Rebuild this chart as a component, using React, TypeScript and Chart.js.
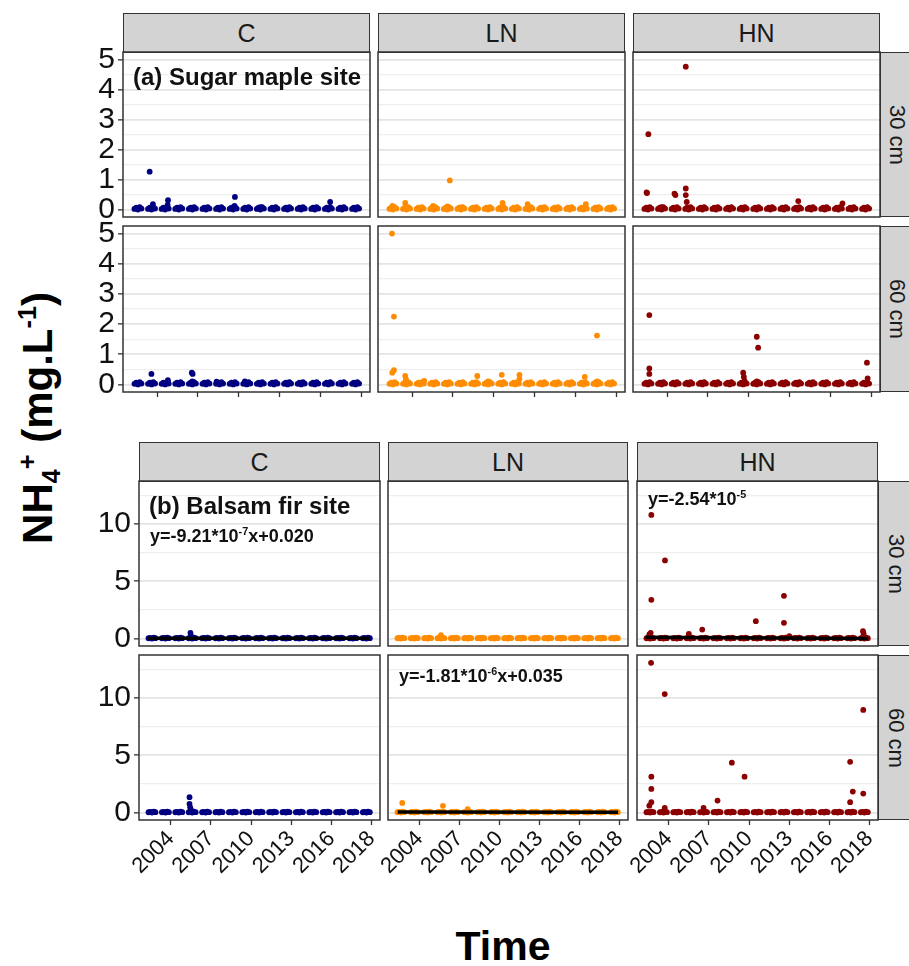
import React, { useEffect, useRef } from 'react';
import { Chart, registerables } from 'chart.js';

Chart.register(...registerables);

const FONT = '"Liberation Sans", Arial, Helvetica, sans-serif';

// ---------- data ----------
const treatments = ['C', 'LN', 'HN'];
const depths = ['30 cm', '60 cm'];
const treatmentColors = ['#000080', '#FF8C00', '#8B0000'];

const xTickValues = [2004, 2007, 2010, 2013, 2016, 2019];
const xTickLabels = ['2004', '2007', '2010', '2013', '2016', '2018'];

const sugarYGrid = [0, 0.5, 1, 1.5, 2, 2.5, 3, 3.5, 4, 4.5, 5];
const sugarYLabels = [0, 1, 2, 3, 4, 5];
const firYGrid = [0, 2.5, 5, 7.5, 10, 12.5];
const firYLabels = [0, 5, 10];

// routine sampling campaigns (years x visits within the growing season)
const sampleYears = [2002, 2003, 2004, 2005, 2006, 2007, 2008, 2009, 2010, 2011, 2012, 2013, 2014, 2015, 2016, 2017, 2018];
const visitOffsets = [0.34, 0.47, 0.6, 0.73, 0.86];
const routineLevels = [0.02, 0.06, 0.0, 0.08, 0.03];

// notable (non-routine) measurements [date, NH4+]
const sugarC30 = [[2003.46, 1.26], [2003.7, 0.18], [2004.81, 0.31], [2004.78, 0.15], [2009.73, 0.42], [2009.7, 0.12], [2011.6, 0.08], [2016.73, 0.25]];
const sugarLN30 = [[2002.56, 0.12], [2003.5, 0.22], [2005.55, 0.12], [2006.6, 0.1], [2006.78, 0.97], [2007.6, 0.07], [2010.66, 0.22], [2012.5, 0.18], [2016.78, 0.18]];
const sugarHN30 = [[2002.5, 0.57], [2002.53, 0.55], [2002.63, 2.51], [2003.6, 0.08], [2004.55, 0.53], [2004.62, 0.48], [2005.38, 4.76], [2005.38, 0.7], [2005.38, 0.48], [2005.45, 0.25], [2013.65, 0.28], [2016.9, 0.2]];
const sugarC60 = [[2003.59, 0.35], [2004.8, 0.14], [2006.56, 0.39], [2006.62, 0.35], [2006.6, 0.1], [2008.38, 0.09], [2010.46, 0.1]];
const sugarLN60 = [[2002.53, 5.0], [2002.67, 2.25], [2002.55, 0.39], [2002.67, 0.47], [2003.5, 0.28], [2003.55, 0.18], [2004.9, 0.12], [2008.8, 0.28], [2009.6, 0.1], [2010.6, 0.32], [2011.9, 0.32], [2011.9, 0.18], [2016.7, 0.25], [2017.6, 1.62], [2017.6, 0.1]];
const sugarHN60 = [[2002.7, 2.3], [2002.7, 0.53], [2002.7, 0.35], [2009.6, 0.39], [2009.65, 0.25], [2009.7, 0.12], [2010.6, 1.58], [2010.7, 1.22], [2010.6, 0.1], [2018.7, 0.72], [2018.75, 0.2]];

const firC30 = [[2005.47, 0.5], [2005.5, 0.25]];
const firLN30 = [[2005.6, 0.3]];
const firHN30 = [[2002.7, 10.8], [2003.72, 6.82], [2002.7, 3.38], [2002.65, 0.5], [2002.55, 0.35], [2005.5, 0.4], [2006.5, 0.78], [2010.5, 1.51], [2012.6, 3.73], [2012.6, 1.37], [2013.0, 0.2], [2018.5, 0.64], [2018.55, 0.4]];
const firC60 = [[2005.4, 1.34], [2005.4, 0.76], [2005.45, 0.45], [2005.5, 0.25]];
const firLN60 = [[2002.7, 0.84], [2005.75, 0.58], [2007.6, 0.3]];
const firHN60 = [[2002.68, 13.08], [2003.7, 10.35], [2002.7, 3.13], [2002.7, 2.06], [2002.7, 0.9], [2002.55, 0.6], [2003.7, 0.4], [2006.6, 0.4], [2007.64, 1.04], [2008.71, 4.35], [2009.66, 3.13], [2017.54, 4.43], [2017.74, 1.83], [2017.54, 0.9], [2018.52, 8.96], [2018.52, 1.65]];

// fitted regression lines (endpoints)
const firC30Trend = [[2002.3, 0.02], [2018.88, 0.015]];
const firHN30Trend = [[2002.28, 0.12], [2018.88, 0.0]];
const firLN60Trend = [[2002.35, 0.035], [2018.88, 0.024]];

// ---------- layout ----------
const sites = [
  {
    xMin: 2001.5, xMax: 2019.66, yMin: -0.25, yMax: 5.25,
    grid: sugarYGrid, labels: sugarYLabels,
    cols: [[123, 370], [378, 625], [633, 880]],
    stripY: [13, 52],
    rows: [[52, 217], [226, 392]],
    rowStripX: 880, rowTextX: 897,
    data: [[sugarC30, sugarLN30, sugarHN30], [sugarC60, sugarLN60, sugarHN60]],
    trends: [[null, null, null], [null, null, null]],
    bottomMode: 'ticks',
  },
  {
    xMin: 2001.63, xMax: 2019.62, yMin: -0.655, yMax: 13.76,
    grid: firYGrid, labels: firYLabels,
    cols: [[139, 380], [388, 628], [637, 878]],
    stripY: [442, 481],
    rows: [[481, 646], [655, 820]],
    rowStripX: 878, rowTextX: 896,
    data: [[firC30, firLN30, firHN30], [firC60, firLN60, firHN60]],
    trends: [[firC30Trend, null, firHN30Trend], [null, firLN60Trend, null]],
    bottomMode: 'labels',
  },
];

const borderPlugin = {
  id: 'panelBorder',
  afterDatasetsDraw(chart: any) {
    const { ctx, chartArea } = chart;
    ctx.save();
    ctx.strokeStyle = '#333333';
    ctx.lineWidth = 1.5;
    ctx.strokeRect(chartArea.left, chartArea.top, chartArea.right - chartArea.left, chartArea.bottom - chartArea.top);
    ctx.restore();
  },
};

function routinePoints() {
  const pts: { x: number; y: number }[] = [];
  sampleYears.forEach((yr) => {
    visitOffsets.forEach((o, i) => pts.push({ x: yr + o, y: routineLevels[i] }));
  });
  return pts;
}

function Panel(props: any) {
  const { col, row, showY, xMode, site, values, trend, color } = props;
  const ref = useRef<HTMLCanvasElement>(null);
  const padL = showY ? 50 : 26;
  const padR = 6;
  const padT = 16;
  const padB = xMode === 'labels' ? 70 : 16;
  const left = col[0] - padL;
  const top = row[0] - padT;
  const width = col[1] - col[0] + padL + padR;
  const height = row[1] - row[0] + padT + padB;

  useEffect(() => {
    const isMajor = (v: number) => site.labels.includes(v);
    const pts = routinePoints().concat(values.map((p: number[]) => ({ x: p[0], y: p[1] })));
    const datasets: any[] = [];
    if (trend) {
      datasets.push({
        data: trend.map((p: number[]) => ({ x: p[0], y: p[1] })),
        showLine: true, borderColor: '#000', borderWidth: 3.5, pointRadius: 0, order: 0,
      });
    }
    datasets.push({
      data: pts, backgroundColor: color, borderColor: color, borderWidth: 0, pointRadius: 2.9, order: 1,
    });
    const chart = new Chart(ref.current as HTMLCanvasElement, {
      type: 'scatter',
      data: { datasets },
      options: {
        animation: false,
        responsive: false,
        maintainAspectRatio: false,
        devicePixelRatio: 1,
        events: [],
        layout: { padding: { left: 0, right: padR, top: padT, bottom: 0 } },
        plugins: { legend: { display: false }, tooltip: { enabled: false } },
        scales: {
          x: {
            type: 'linear', min: site.xMin, max: site.xMax, display: true,
            afterBuildTicks: (s: any) => { s.ticks = xTickValues.map((v) => ({ value: v })); },
            afterFit: (s: any) => { s.height = padB; s.paddingLeft = 0; s.paddingRight = 0; },
            grid: { drawOnChartArea: false, drawTicks: xMode !== 'none', tickLength: 5, tickColor: '#333', tickWidth: 1.3 },
            border: { display: false },
            ticks: {
              display: xMode === 'labels', autoSkip: false, minRotation: 45, maxRotation: 45, padding: 1,
              color: '#111', font: { family: FONT, size: 22 },
              callback: (_v: any, i: number) => xTickLabels[i],
            },
          },
          y: {
            type: 'linear', min: site.yMin, max: site.yMax,
            afterBuildTicks: (s: any) => { s.ticks = site.grid.map((v: number) => ({ value: v })); },
            afterFit: (s: any) => { s.width = padL; s.paddingTop = 0; s.paddingBottom = 0; },
            grid: {
              color: (c: any) => (isMajor(c.tick?.value) ? '#E4E4E4' : '#EEEEEE'),
              lineWidth: (c: any) => (isMajor(c.tick?.value) ? 1.7 : 1.3),
              drawTicks: showY, tickLength: 5, tickWidth: 1.3,
              tickColor: (c: any) => (isMajor(c.tick?.value) ? '#333' : 'rgba(0,0,0,0)'),
            },
            border: { display: false },
            ticks: {
              display: showY, autoSkip: false, padding: 3, color: '#111',
              font: { family: FONT, size: 30 },
              callback: (v: any) => (isMajor(v) ? String(v) : ''),
            },
          },
        },
      } as any,
      plugins: [borderPlugin],
    });
    return () => chart.destroy();
  }, []);

  return (
    <canvas
      ref={ref}
      width={width}
      height={height}
      style={{ position: 'absolute', left, top, width, height }}
    />
  );
}

const stripStyle = (l: number, t: number, w: number, h: number): React.CSSProperties => ({
  position: 'absolute', left: l, top: t, width: w, height: h, background: '#D3D3D3',
  border: '1.5px solid #333', boxSizing: 'border-box', display: 'flex', alignItems: 'center',
  justifyContent: 'center', color: '#1a1a1a', fontFamily: FONT,
});

const sup: React.CSSProperties = { fontSize: '0.6em', position: 'relative', top: '-0.65em' };
const sub: React.CSSProperties = { fontSize: '0.6em', position: 'relative', top: '0.3em' };

export default function App() {
  const strips: any[] = [];
  const panels: any[] = [];
  sites.forEach((site, si) => {
    site.cols.forEach((col, ci) => {
      strips.push(
        <div key={`s${si}${ci}`} style={{ ...stripStyle(col[0], site.stripY[0], col[1] - col[0], site.stripY[1] - site.stripY[0] + 1), fontSize: 25 }}>
          {treatments[ci]}
        </div>
      );
    });
    site.rows.forEach((row, ri) => {
      strips.push(
        <div key={`r${si}${ri}`} style={{ ...stripStyle(site.rowStripX, row[0], 42, row[1] - row[0]) }} />
      );
      strips.push(
        <div key={`rt${si}${ri}`} style={{
          position: 'absolute', left: site.rowTextX, top: (row[0] + row[1]) / 2, transform: 'translate(-50%,-50%) rotate(90deg)',
          fontFamily: FONT, fontSize: 22, lineHeight: 1, whiteSpace: 'nowrap', color: '#1a1a1a',
        }}>{depths[ri]}</div>
      );
      site.cols.forEach((col, ci) => {
        panels.push(
          <Panel
            key={`p${si}${ri}${ci}`}
            col={col}
            row={row}
            showY={ci === 0}
            xMode={ri === 1 ? site.bottomMode : 'none'}
            site={site}
            values={site.data[ri][ci]}
            trend={site.trends[ri][ci]}
            color={treatmentColors[ci]}
          />
        );
      });
    });
  });

  const ann = (l: number, t: number, fs: number, content: any, key: string) => (
    <div key={key} style={{ position: 'absolute', left: l, top: t, fontFamily: FONT, fontWeight: 'bold', fontSize: fs, lineHeight: 1, whiteSpace: 'nowrap', color: '#111' }}>
      {content}
    </div>
  );

  return (
    <div style={{ position: 'absolute', left: 0, top: 0, width: 909, height: 966, overflow: 'hidden', background: '#fff' }}>
      {strips}
      {panels}
      {ann(133, 65, 24, '(a) Sugar maple site', 'a1')}
      {ann(149, 494, 24, '(b) Balsam fir site', 'b1')}
      {ann(150, 527, 18, <span>y=-9.21*10<span style={sup}>-7</span>x+0.020</span>, 'e1')}
      {ann(648, 490, 18, <span>y=-2.54*10<span style={sup}>-5</span></span>, 'e2')}
      {ann(399, 667, 18, <span>y=-1.81*10<span style={sup}>-6</span>x+0.035</span>, 'e3')}
      <div style={{
        position: 'absolute', left: 38, top: 418, transform: 'translate(-50%,-50%) rotate(-90deg)',
        fontFamily: FONT, fontWeight: 'bold', fontSize: 42, lineHeight: 1, whiteSpace: 'nowrap', color: '#000',
      }}>
        NH<span style={sub}>4</span><span style={sup}>+</span> (mg.L<span style={sup}>-1</span>)
      </div>
      <div style={{
        position: 'absolute', left: 503, top: 926, transform: 'translateX(-50%)',
        fontFamily: FONT, fontWeight: 'bold', fontSize: 41, lineHeight: 1, whiteSpace: 'nowrap', color: '#000',
      }}>Time</div>
    </div>
  );
}
